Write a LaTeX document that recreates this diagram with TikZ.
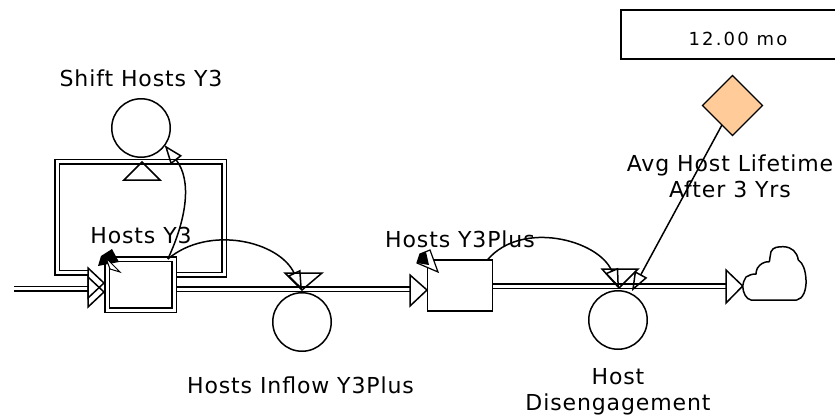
\documentclass[tikz,border=0pt]{standalone}
\usepackage{fontspec}
\setmainfont{DejaVu Sans}[LetterSpace=4]
\newfontfamily\valfont{DejaVu Sans}[LetterSpace=12]
\usetikzlibrary{shapes.geometric,arrows.meta}
\definecolor{peach}{HTML}{FFCC99}
\begin{document}
\begin{tikzpicture}[x=1pt,y=-1pt,
  every node/.style={inner sep=0pt, outer sep=0pt},
  lbl/.style={font=\fontsize{22}{26}\selectfont, anchor=base, align=center},
  pipe/.style={draw=black, double=white, double distance=3pt, line width=1.5pt, line join=miter},
  stockbox/.style={draw, fill=white, line width=1.5pt, rectangle, minimum width=65pt, minimum height=51pt},
  queuebox/.style={stockbox, double=white, double distance=3pt, minimum width=67pt, minimum height=51pt},
  auxc/.style={draw, circle, fill=white, line width=1.5pt, minimum size=58.5pt},
  conn/.style={draw, line width=1.5pt, -{Triangle[open, length=19pt, width=14pt, line width=1.5pt]}},
  tri/.style={draw, line width=1.5pt, line join=miter},
  trif/.style={tri, fill=white},
]
\useasboundingbox (0,0) rectangle (835,416);

% coordinates
\coordinate (src) at (14,288.5);
\coordinate (bt) at (88,288.5);
\coordinate (lpa) at (224,274.5);
\coordinate (lpb) at (224,161.5);
\coordinate (lpc) at (57,161.5);
\coordinate (lpd) at (57,272.5);
\coordinate (y3pin) at (410,289);
\coordinate (clt) at (726,286);
\coordinate (vs) at (142,171);
\coordinate (vi) at (302,290);
\coordinate (vd) at (619,288);
\coordinate (vdr) at (632,291);

% nodes
\node[queuebox] (y3) at (140.5,284.5) {};
\node[stockbox] (y3p) at (460,285.5) {};
\node[auxc] (fs) at (141,128) {};
\node[auxc] (fi) at (302,322) {};
\node[auxc] (fd) at (618,320) {};
\node[draw, diamond, fill=peach, line width=1.2pt, minimum width=60pt, minimum height=60pt] (dia) at (732.5,105.5) {};
\begin{scope}
\clip (0,0) rectangle (835,416);
\node[draw, line width=1.2pt, minimum width=234pt, minimum height=49pt] (val) at (738,34.5) {};
\end{scope}
\node[font=\valfont\fontsize{18}{20}\selectfont, anchor=base] (valtext) at (738,45) {12.00 mo};

% pipes
\draw[pipe] (src) -- (bt);
\draw[pipe] (y3.east |- lpa) -- (lpa) -- (lpb) -- (lpc) -- (lpd) -- (bt |- lpd);
\draw[pipe] (y3.east |- y3pin) -- (y3pin);
\draw[pipe] (y3p.east |- clt) -- (clt);

% redraw stocks over pipes
\node[queuebox] at (y3) {};
\node[stockbox] at (y3p) {};

% bowtie inflow of Hosts Y3
\draw[tri] (88,277) -- (104,292) -- (88,307) -- cycle;
\draw[tri] (88,268) -- (104,283) -- (88,298) -- cycle;
% inflow triangle of Hosts Y3Plus
\draw[trif] (410,275) -- (427,290) -- (410,306) -- cycle;
% outflow end triangle and cloud
\draw[trif] (726,270) -- (742.7,286) -- (726,303) -- cycle;
\draw[line width=1.5pt, fill=white, line join=round]
  (742.7,286) .. controls (743,293) and (746,299) .. (751,300)
  -- (796.7,300)
  .. controls (803,299) and (806.5,290) .. (806,280)
  .. controls (805.5,270) and (803,263) .. (798.3,260)
  .. controls (797,252) and (792,247) .. (783.3,246.7)
  .. controls (778,246.7) and (773,247) .. (771,251.7)
  .. controls (770,255) and (770,259) .. (769.3,261.7)
  .. controls (764,261.5) and (760,264) .. (757.3,268.3)
  .. controls (756.5,270) and (756,272) .. (756,274)
  .. controls (752,274) and (749,275) .. (746,277)
  .. controls (744,280) and (743,283) .. (742.7,286);

% valves
\draw[tri] (vs) ++(0,-9) -- ++(18,18) -- ++(-36,0) -- cycle;
\draw[tri] (vi) -- ++(-17,-17) -- ++(37,0) -- cycle;
\draw[tri] (vd) -- ++(-17,-19) -- ++(36,0) -- cycle;

% flow direction marks on stocks
\fill[black] (98,266) -- (101,256) -- (112,249) -- (119,262) -- cycle;
\draw[line width=1pt, fill=white, line join=miter] (106,258) -- (120,272) -- (110,269) -- cycle;
\draw[line width=1.2pt, fill=white, line join=miter] (417,263) -- (420,254) -- (430,250) -- (438,272) -- cycle;
\fill[black] (417,263) -- (420,254) -- (426,252) -- (429,265) -- cycle;

% connectors
\draw[conn] (y3.43) to[out=65, in=-52] (fs.-36);
\draw[conn] (y3.43) to[out=40, in=115] (vi);
\draw[conn] (y3p.43) to[out=50, in=113] (vd);
\draw[conn] (dia) -- (vdr);

% labels (base = baseline of last line)
\node[lbl] (lshift) at (141,86) {Shift Hosts Y3};
\node[lbl] (ly3) at (141,243) {Hosts Y3};
\node[lbl] (ly3p) at (460,247) {Hosts Y3Plus};
\node[lbl] (lfi) at (300.5,393) {Hosts Inflow Y3Plus};
\node[lbl] (lfd) at (618,410) {Host\\Disengagement};
\node[lbl] (lavg) at (730,197.5) {Avg Host Lifetime\\After 3 Yrs};
\end{tikzpicture}
\end{document}
